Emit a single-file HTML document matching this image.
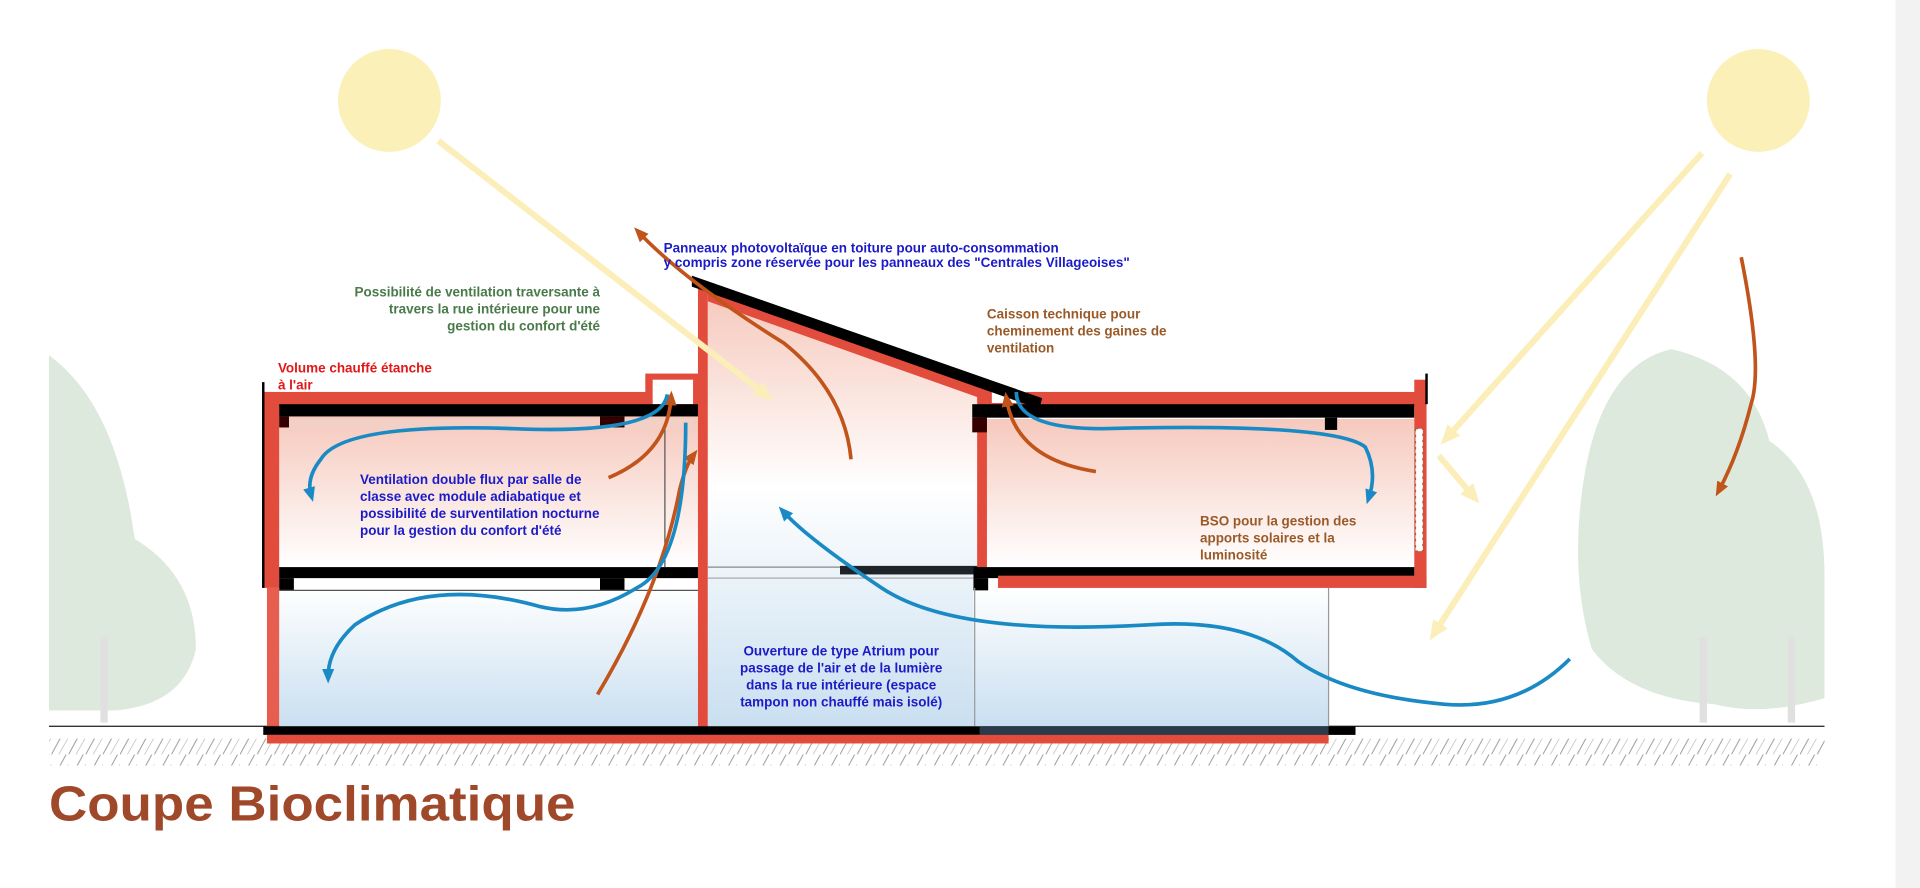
<!DOCTYPE html>
<html><head><meta charset="utf-8"><style>
html,body{margin:0;padding:0;background:#fff;width:1920px;height:888px;overflow:hidden}
svg{display:block}
text{font-family:"Liberation Sans",sans-serif;font-weight:bold}
</style></head><body>
<svg width="1920" height="888" viewBox="0 0 1568 725" preserveAspectRatio="none">
<defs>
<linearGradient id="pink" x1="0" y1="0" x2="0" y2="1"><stop offset="0" stop-color="#f6c9bd"/><stop offset="1" stop-color="#fff"/></linearGradient>
<linearGradient id="blue" x1="0" y1="0" x2="0" y2="1"><stop offset="0" stop-color="#fff"/><stop offset="1" stop-color="#c9dff0"/></linearGradient>
<linearGradient id="atr" x1="0" y1="0" x2="0" y2="1"><stop offset="0" stop-color="#f6c9bd"/><stop offset="0.45" stop-color="#fff"/><stop offset="1" stop-color="#c9dff0"/></linearGradient>
<pattern id="hatch" width="14" height="22" patternUnits="userSpaceOnUse"><path d="M0 22 L12 0" stroke="#999" stroke-width="0.8"/><path d="M6 22 L14 8" stroke="#bbb" stroke-width="0.6"/></pattern>
<marker id="ab" markerUnits="userSpaceOnUse" markerWidth="12" markerHeight="12" refX="6" refY="6" orient="auto"><path d="M0 1 L12 6 L0 11 Z" fill="#1a8ac4"/></marker>
<marker id="ao" markerUnits="userSpaceOnUse" markerWidth="12" markerHeight="12" refX="6" refY="6" orient="auto"><path d="M0 1 L12 6 L0 11 Z" fill="#c0541a"/></marker>
<marker id="ay" markerUnits="userSpaceOnUse" markerWidth="16" markerHeight="16" refX="8" refY="8" orient="auto"><path d="M0 1 L16 8 L0 15 Z" fill="#fbeeb8"/></marker>
</defs>
<rect x="1548" y="0" width="20" height="725" fill="#f2f2f2"/>
<circle cx="318" cy="82" r="42" fill="#fbf0b8"/>
<circle cx="1436" cy="82" r="42" fill="#fbf0b8"/>
<g fill="#dde9dc">
<path d="M40 290 Q95 330 110 440 Q160 470 160 530 Q150 575 95 580 L40 580 Z"/>
<path d="M1290 420 Q1300 300 1365 285 Q1430 300 1445 360 Q1490 390 1490 470 L1490 570 Q1440 585 1400 575 Q1330 570 1300 530 Q1285 480 1290 420Z"/>
</g>
<rect x="1388" y="520" width="6" height="70" fill="#e0e0e0"/><rect x="1460" y="520" width="6" height="70" fill="#e0e0e0"/><rect x="82" y="520" width="6" height="70" fill="#e0e0e0"/>
<rect x="40" y="603" width="1450" height="22" fill="url(#hatch)"/>
<line x1="40" y1="593" x2="1490" y2="593" stroke="#333" stroke-width="1.2"/>
<rect x="228" y="340" width="342" height="123" fill="url(#pink)"/>
<rect x="228" y="480" width="342" height="113" fill="url(#blue)"/>
<path d="M578 240 L800 314 L800 593 L578 593 Z" fill="url(#atr)"/>
<rect x="806" y="342" width="349" height="121" fill="url(#pink)"/>
<rect x="795" y="480" width="290" height="113" fill="url(#blue)"/>
<rect x="236" y="342" width="330" height="8" fill="#f3d0c5"/>
<rect x="215" y="320" width="13" height="160" fill="#e24c3c"/>
<rect x="215" y="320" width="315" height="12" fill="#e24c3c"/>
<rect x="527" y="305" width="45" height="27" fill="#e24c3c"/>
<rect x="533" y="310" width="33" height="20" fill="#fff"/>
<rect x="228" y="330" width="342" height="10" fill="#000"/>
<rect x="228" y="340" width="8" height="9" fill="#300"/><rect x="490" y="340" width="20" height="9" fill="#300"/>
<line x1="215" y1="312" x2="215" y2="480" stroke="#000" stroke-width="2"/>
<rect x="228" y="463" width="342" height="9" fill="#000"/>
<rect x="228" y="472" width="12" height="10" fill="#000"/><rect x="490" y="472" width="20" height="10" fill="#000"/>
<line x1="228" y1="482" x2="570" y2="482" stroke="#555"/>
<line x1="543" y1="350" x2="543" y2="463" stroke="#555"/>
<rect x="218" y="480" width="10" height="113" fill="#e24c3c" opacity="0.9"/>
<rect x="570" y="235" width="8" height="358" fill="#e24c3c"/>
<path d="M578 232 L806 315 L806 327 L578 246 Z" fill="#e24c3c"/>
<line x1="578" y1="463" x2="686" y2="463" stroke="#888"/>
<rect x="686" y="462" width="114" height="7" fill="#1e2328"/>
<line x1="578" y1="472" x2="800" y2="472" stroke="#aaa"/>
<rect x="798" y="310" width="8" height="155" fill="#e24c3c"/>
<path d="M806 315 L840 327 L840 332 L806 332Z" fill="#e24c3c"/>
<rect x="810" y="318" width="22" height="11" fill="#fff"/>
<rect x="838" y="320" width="327" height="12" fill="#e24c3c"/>
<rect x="794" y="330" width="361" height="11" fill="#000"/>
<rect x="794" y="341" width="12" height="12" fill="#300"/><rect x="1082" y="341" width="10" height="10" fill="#000"/>
<rect x="1155" y="310" width="10" height="170" fill="#e24c3c"/>
<line x1="1165" y1="305" x2="1165" y2="330" stroke="#000" stroke-width="2"/>
<rect x="1156" y="350" width="6" height="100" fill="#fff" stroke="#8a6a40" stroke-dasharray="2 3"/>
<rect x="795" y="463" width="360" height="9" fill="#000"/>
<rect x="795" y="472" width="12" height="10" fill="#000"/>
<rect x="815" y="470" width="350" height="10" fill="#e24c3c"/>
<line x1="1085" y1="480" x2="1085" y2="593" stroke="#999"/>
<line x1="796" y1="480" x2="796" y2="593" stroke="#999"/>
<path d="M565 225 L851 325 L849 334 L565 234 Z" fill="#000"/>
<rect x="215" y="593" width="892" height="7" fill="#000"/>
<rect x="800" y="593" width="285" height="7" fill="#2a3a4a"/>
<rect x="218" y="600" width="867" height="7" fill="#e24c3c"/>
<g stroke="#fbeeb8" stroke-width="5" fill="none" marker-end="url(#ay)">
<line x1="358" y1="115" x2="625" y2="322"/>
<line x1="1390" y1="125" x2="1182" y2="357"/>
<line x1="1413" y1="142" x2="1172" y2="516"/>
<line x1="1175" y1="372" x2="1203" y2="405"/>
</g>
<g stroke="#c0541a" stroke-width="3" fill="none" marker-end="url(#ao)">
<path d="M695 375 Q690 320 640 280 Q560 230 522 190"/>
<path d="M488 567 Q540 480 555 400 Q560 380 566 372"/>
<path d="M497 390 Q545 370 548 325"/>
<path d="M895 385 Q830 375 822 326"/>
<path d="M1422 210 Q1440 300 1430 330 Q1420 370 1404 400"/>
</g>
<g stroke="#1a8ac4" stroke-width="3" fill="none" marker-end="url(#ab)">
<path d="M545 322 Q540 355 420 350 Q280 345 262 375 Q250 390 254 404"/>
<path d="M560 345 Q560 460 520 480 Q480 505 440 495 Q350 470 290 510 Q268 530 268 552"/>
<path d="M830 320 Q830 350 900 350 Q1090 345 1115 365 Q1125 385 1118 406"/>
<path d="M1282 538 Q1240 580 1180 575 Q1100 568 1060 540 Q1020 505 940 510 Q780 520 720 480 Q660 440 640 418"/>
</g>
<text x="542" y="206" font-size="11" fill="#1b1bc8">Panneaux photovoltaïque en toiture pour auto-consommation</text>
<text x="542" y="218" font-size="11" fill="#1b1bc8">y compris zone réservée pour les panneaux des "Centrales Villageoises"</text>
<g font-size="11" fill="#4a7a4a" text-anchor="end">
<text x="490" y="242">Possibilité de ventilation traversante à</text>
<text x="490" y="256">travers la rue intérieure pour une</text>
<text x="490" y="270">gestion du confort d'été</text></g>
<g font-size="11" fill="#9a5a28">
<text x="806" y="260">Caisson technique pour</text>
<text x="806" y="274">cheminement des gaines de</text>
<text x="806" y="288">ventilation</text>
<text x="980" y="429">BSO pour la gestion des</text>
<text x="980" y="443">apports solaires et la</text>
<text x="980" y="457">luminosité</text></g>
<g font-size="11" fill="#e21818"><text x="227" y="304">Volume chauffé étanche</text><text x="227" y="318">à l'air</text></g>
<g font-size="11" fill="#1b1bc8">
<text x="294" y="395">Ventilation double flux par salle de</text>
<text x="294" y="409">classe avec module adiabatique et</text>
<text x="294" y="423">possibilité de surventilation nocturne</text>
<text x="294" y="437">pour la gestion du confort d'été</text>
<g text-anchor="middle">
<text x="687" y="535">Ouverture de type Atrium pour</text>
<text x="687" y="549">passage de l'air et de la lumière</text>
<text x="687" y="563">dans la rue intérieure (espace</text>
<text x="687" y="577">tampon non chauffé mais isolé)</text></g></g>
<text x="40" y="670" font-size="40" fill="#a0482a" textLength="430" lengthAdjust="spacingAndGlyphs">Coupe Bioclimatique</text>
</svg>
</body></html>
